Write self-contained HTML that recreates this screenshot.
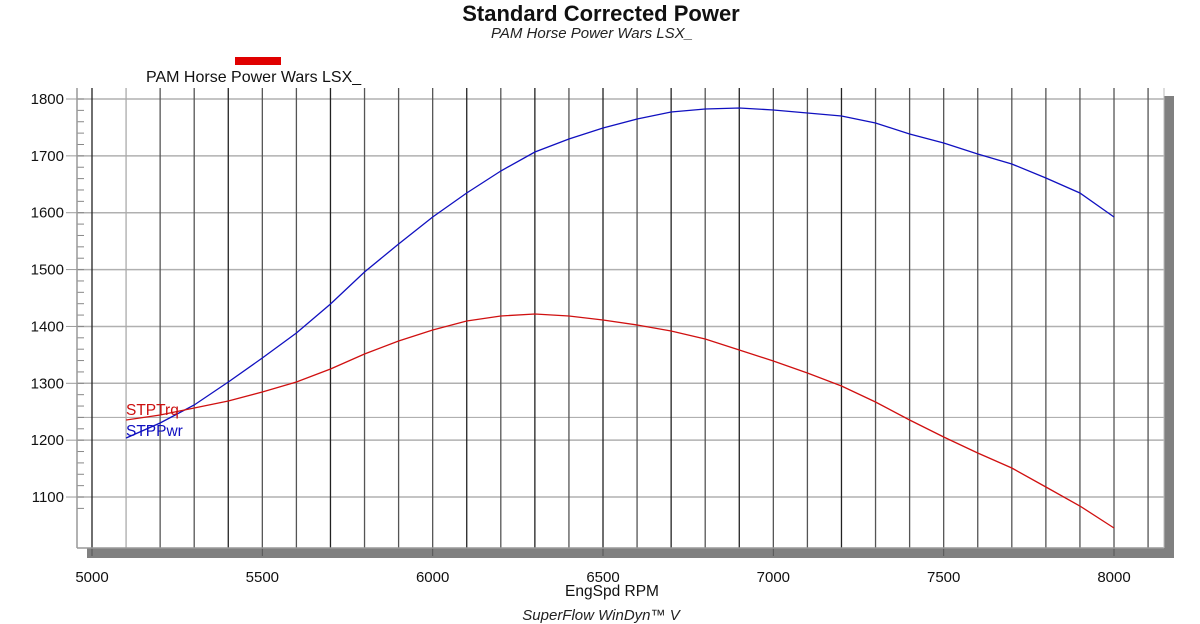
<!DOCTYPE html>
<html><head><meta charset="utf-8"><style>
html,body{margin:0;padding:0;background:#fff;}
svg{display:block;font-family:"Liberation Sans",Arial,sans-serif;}
</style></head><body>
<svg width="1200" height="624" viewBox="0 0 1200 624" xmlns="http://www.w3.org/2000/svg">
<rect width="1200" height="624" fill="#fff"/>
<text x="601" y="21" text-anchor="middle" font-size="22" font-weight="bold" fill="#111">Standard Corrected Power</text>
<text x="592" y="38" text-anchor="middle" font-size="15" font-style="italic" fill="#222">PAM Horse Power Wars LSX_</text>
<rect x="235" y="57" width="46" height="8" fill="#e00000"/>
<text x="146" y="82" font-size="16" fill="#111">PAM Horse Power Wars LSX_</text>
<rect x="1164" y="96" width="10" height="462" fill="#808080"/>
<rect x="87" y="548" width="1087" height="10" fill="#808080"/>
<rect x="77" y="88" width="1087" height="460" fill="#fff"/>
<g id="grid"></g>
<line x1="77" y1="88" x2="77" y2="548" stroke="#999" stroke-width="1.5"/>
<line x1="77" y1="548" x2="1164" y2="548" stroke="#999" stroke-width="1.5"/>
<line x1="1164" y1="88" x2="1164" y2="548" stroke="#bbb" stroke-width="1"/>
<g id="labels" font-size="15" fill="#111"></g>
<polyline id="blue" fill="none" stroke="#1010c0" stroke-width="1.3"/>
<polyline id="red" fill="none" stroke="#d01010" stroke-width="1.3"/>
<text x="126" y="415" font-size="15.5" fill="#cc1010">STPTrq</text>
<text x="126" y="436" font-size="15.5" fill="#1010c0">STPPwr</text>
<text x="612" y="596" text-anchor="middle" font-size="15.5" fill="#111">EngSpd RPM</text>
<text x="601" y="620" text-anchor="middle" font-size="15" font-style="italic" fill="#222">SuperFlow WinDyn™ V</text>
</svg>
<script>
const NS="http://www.w3.org/2000/svg";
const X=r=>92+(r-5000)*0.34067, Y=v=>99+(1800-v)*0.5686;
const g=document.getElementById('grid'), L=document.getElementById('labels');
function ln(x1,y1,x2,y2,c,w){const l=document.createElementNS(NS,'line');l.setAttribute('x1',x1);l.setAttribute('y1',y1);l.setAttribute('x2',x2);l.setAttribute('y2',y2);l.setAttribute('stroke',c);l.setAttribute('stroke-width',w);g.appendChild(l);}
function tx(x,y,s,a){const t=document.createElementNS(NS,'text');t.setAttribute('x',x);t.setAttribute('y',y);t.setAttribute('text-anchor',a);t.textContent=s;L.appendChild(t);}
for(let v=1100;v<=1800;v+=100){ln(77,Y(v),1164,Y(v),'#b0b0b0',1.5);tx(64,Y(v)+5,v,'end');ln(66,Y(v),77,Y(v),'#999',1);}
ln(77,Y(1240),1164,Y(1240),'#b0b0b0',1.2);
for(let v=1080;v<=1820;v+=20){const y=Y(v);if(y>88&&y<548)ln(77,y,84,y,'#888',1);}
for(let r=5000;r<=8100;r+=100){const dark=[5000,5400,5700,6100,6300,6500,6700,6900,7200].includes(r);ln(X(r),88,X(r),548,r==5100?'#aaa':(dark?'#222':'#555'),1.3);}
for(let r=5000;r<=8000;r+=500){tx(X(r),582,r,'middle');ln(X(r),548,X(r),556,'#555',1);}
const b=[438,423,405,382,358,333,304,272,244,217,193,171,152,139,128,119,112,109,108,110,113,116,123,134,143,154,164,178,193,217];
const rd=[420,415,408,401,392,382,369,354,341,330,321,316,314,316,320,325,331,339,350,361,373,386,402,420,437,453,468,487,506,528];
const pts=a=>a.map((y,i)=>X(5100+i*100).toFixed(1)+','+y).join(' ');
document.getElementById('blue').setAttribute('points',pts(b));
document.getElementById('red').setAttribute('points',pts(rd));
</script>
</body></html>
